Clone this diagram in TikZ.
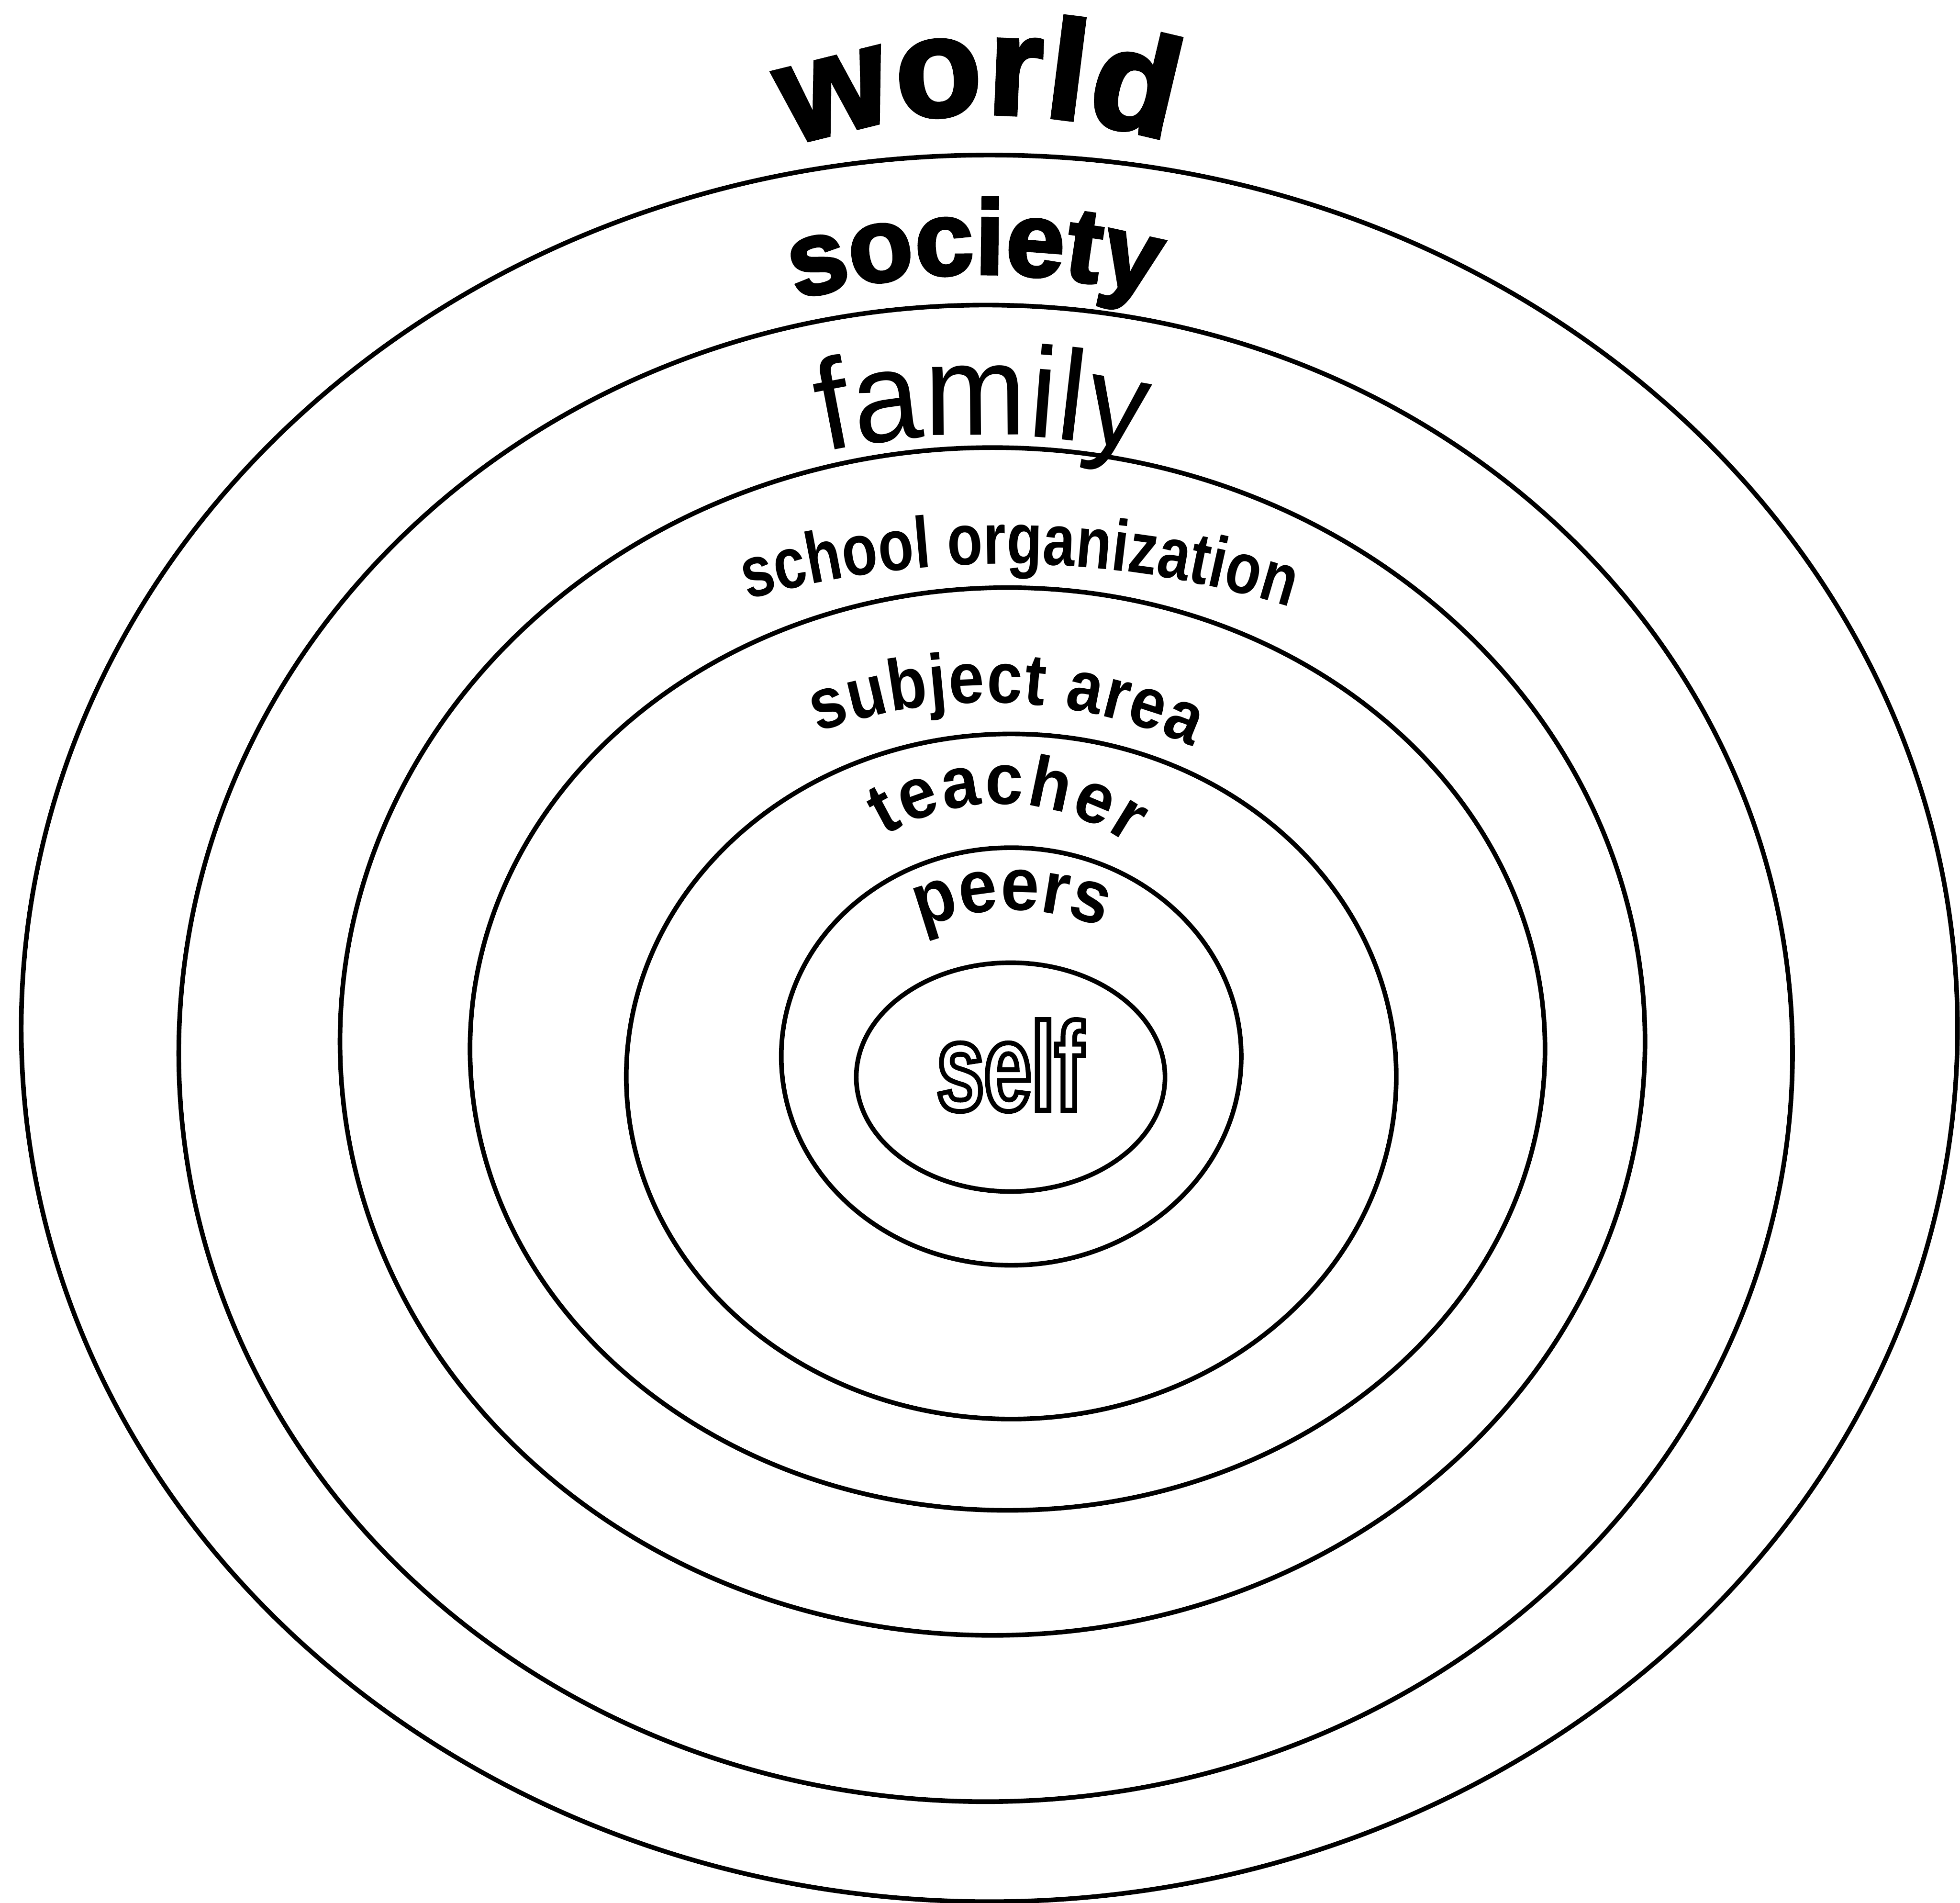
\documentclass[tikz,border=0pt]{standalone}
\usepackage{fontspec}
\usetikzlibrary{decorations.text}
\setmainfont{Liberation Sans}
\newfontfamily\heavyfont[FakeBold=3]{Liberation Sans Bold}
\newfontfamily\famfont[FakeStretch=0.95]{Liberation Sans}
\newfontfamily\schfont[FakeStretch=0.80]{Liberation Sans Bold}
\newfontfamily\subfont[FakeStretch=0.88]{Liberation Sans Bold}
\newfontfamily\teafont[FakeStretch=0.94]{Liberation Sans Bold}
\newfontfamily\peerfont[FakeStretch=0.92]{Liberation Sans Bold}
\newfontfamily\selffont[FakeStretch=0.68]{Liberation Sans Bold}
\newcommand\fWorld{\heavyfont\fontsize{31.9pt}{36pt}\selectfont}
\newcommand\fSociety{\heavyfont\fontsize{23.9pt}{28pt}\selectfont}
\newcommand\fFamily{\famfont\fontsize{29.3pt}{34pt}\selectfont}
\newcommand\fSchool{\schfont\fontsize{16.5pt}{20pt}\selectfont}
\newcommand\fSubject{\subfont\fontsize{16.5pt}{20pt}\selectfont}
\newcommand\fTeacher{\teafont\fontsize{16.5pt}{20pt}\selectfont}
\newcommand\fPeers{\peerfont\fontsize{17.1pt}{20pt}\selectfont}
\newcommand\fSelf{\selffont\fontsize{28.5pt}{32pt}\selectfont}
\newcommand\outlineon{\special{pdf:literal direct 1 Tr 1.1 w}}
\newcommand\outlineoff{\special{pdf:literal direct 0 Tr}}
\tikzset{
  ring/.style={draw=black, line width=1.05pt},
  arclabel/.style={decorate, decoration={text along path, text align=fit to path, text={#1}}}
}
\begin{document}
\begin{tikzpicture}
\useasboundingbox (0,0) rectangle (15.68,-15.22);
% ring centres
\coordinate (c1) at (7.915,-8.225);
\coordinate (c2) at (7.885,-8.425);
\coordinate (c3) at (7.94,-8.33);
\coordinate (c4) at (8.06,-8.39);
\coordinate (c5) at (8.09,-8.61);
\coordinate (c6) at (8.09,-8.45);
\coordinate (c7) at (8.085,-8.615);
\draw[ring] (c1) ellipse [x radius=7.745, y radius=6.985];
\draw[ring] (c2) ellipse [x radius=6.455, y radius=5.985];
\draw[ring] (c3) ellipse [x radius=5.22, y radius=4.75];
\draw[ring] (c4) ellipse [x radius=4.30, y radius=3.69];
\draw[ring] (c5) ellipse [x radius=3.08, y radius=2.74];
\draw[ring] (c6) ellipse [x radius=1.84, y radius=1.67];
\draw[ring] (c7) ellipse [x radius=1.235, y radius=0.915];
% label arc centres
\coordinate (aw) at (7.90,-5.71);
\coordinate (as) at (7.85,-7.59);
\coordinate (af) at (7.85,-9.48);
\coordinate (ao) at (8.05,-12.11);
\coordinate (aa) at (7.90,-9.62);
\coordinate (at) at (8.00,-8.23);
\coordinate (ap) at (8.10,-9.18);
\path[arclabel={|\fWorld|world}] ([shift={(109.1:4.80)}]aw) arc[start angle=109.1, end angle=72.6, radius=4.80];
\path[arclabel={|\fSociety|society}] ([shift={(105.9:5.40)}]as) arc[start angle=105.9, end angle=75.6, radius=5.40];
\path[arclabel={|\fFamily|family}] ([shift={(102.1:6.00)}]af) arc[start angle=102.1, end angle=78.1, radius=6.00];
\path[arclabel={|\fSchool|school organization}] ([shift={(105.8:7.60)}]ao) arc[start angle=105.8, end angle=72.6, radius=7.60];
\path[arclabel={|\fSubject|subject area}] ([shift={(109.85:4.00)}]aa) arc[start angle=109.85, end angle=65.8, radius=4.00];
\path[arclabel={|\fTeacher|teacher}] ([shift={(121:1.80)}]at) arc[start angle=121, end angle=55, radius=1.80];
\path[arclabel={|\fPeers|peers}] ([shift={(112.6:1.90)}]ap) arc[start angle=112.6, end angle=67.8, radius=1.90];
\node[anchor=base, inner sep=0pt] (selflabel) at (8.08,-8.88) {\fSelf\outlineon self\outlineoff};
\end{tikzpicture}
\end{document}
